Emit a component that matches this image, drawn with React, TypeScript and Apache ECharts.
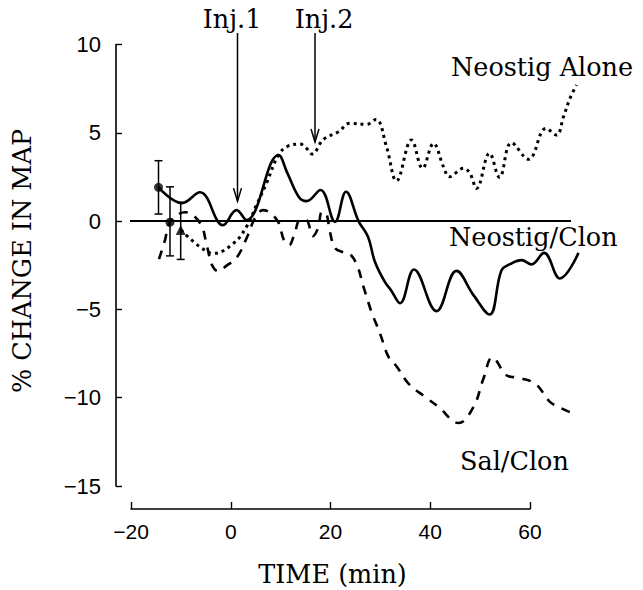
import React, { useEffect, useRef } from "react";
import * as echarts from "echarts";

// ---- data (time in min, % change in MAP) ----
const neoClonT = [-14.5, -9.8, -6.2, -1.6, 1.1, 3.1, 9.5, 11.3, 13.6, 15.1, 17.9, 20.8, 23, 25.5, 27.4, 28.8, 30.8, 32, 33.8, 36.6, 41.1, 45.1, 48.5, 51.7, 54.1, 55.8, 58.1, 60.1, 62.6, 65.8, 69.5];
const neoClonV = [1.91, 1.02, 1.63, -0.23, 0.62, 0.06, 3.74, 2.7, 1.35, 1.13, 1.76, -0.04, 1.66, 0, -0.89, -2.32, -3.46, -3.91, -4.65, -2.74, -5.1, -2.82, -4.19, -5.29, -2.78, -2.44, -2.21, -2.45, -1.8, -3.25, -1.8];

const neoAloneT = [-10, -6.2, -3.5, 0.5, 3.1, 5.1, 7.1, 9.5, 11.4, 13.8, 15.1, 16.2, 18.5, 21.5, 23.8, 27.1, 29, 31.1, 33.1, 36.1, 38.3, 40.5, 42.5, 43.7, 46.5, 47.8, 49.1, 51.7, 53.7, 56.1, 59.5, 63, 65.1, 66.5, 67.8, 69.1];
const neoAloneV = [-0.51, -1.46, -1.83, -1.26, -0.32, 0.91, 2.15, 3.74, 4.25, 4.36, 4.12, 3.8, 4.63, 5.06, 5.54, 5.48, 5.76, 4.21, 2.28, 4.59, 2.99, 4.4, 3.08, 2.51, 2.99, 2.7, 1.85, 3.84, 2.48, 4.44, 3.5, 5.25, 4.87, 5.91, 6.95, 7.71];

const salClonT = [-14.4, -13.2, -12.2, -9.2, -6.2, -4.8, -3.8, -2.6, -1, 1.2, 3.2, 4.8, 6.4, 9.2, 10.6, 11.6, 12.8, 13.8, 15, 16.4, 17.4, 18.2, 19, 19.8, 20.8, 22.4, 23.8, 25.2, 26.5, 28.1, 29.8, 31.5, 33.1, 35.5, 38.8, 41.5, 45.5, 48.5, 50.5, 52.3, 55.1, 57.1, 60.8, 63.8, 65.5, 69.1];
const salClonV = [-2.15, -1.08, -0.06, 0.5, -0.11, -1.42, -2.49, -2.83, -2.55, -2.04, -0.91, 0.17, 0.62, 0.06, -1.08, -1.36, -0.62, 0.06, 0.06, -0.85, -0.4, 0.51, 0.45, -0.62, -1.53, -1.76, -1.87, -2.49, -3.72, -5.14, -6.36, -7.69, -8.22, -9.2, -9.95, -10.52, -11.43, -10.52, -8.91, -7.72, -8.73, -8.86, -9.2, -10.24, -10.52, -10.99];

// baseline (zero) line extent
const zeroLineT = [-20.2, 68];
const zeroLineV = [0, 0];

// baseline points with error bars
const errT = [-14.5, -12.2, -10.06];
const errMid = [1.91, -0.06, -0.51];
const errLow = [0.4, -1.97, -2.17];
const errHigh = [3.42, 1.94, 1.06];
const errSymbols = ["circle", "circle", "triangle"];

// injection arrows
const injLabels = ["Inj.1", "Inj.2"];
const injT = [1.3, 16.8];
const injTip = [1.13, 4.48];
const injTop = [10.65, 10.65];

// axes
const xMin = -20, xMax = 60, xStep = 20;
const yMin = -15, yMax = 10, yStep = 5;
const dataXMax = 72;

const SERIF = "'DejaVu Serif', 'Liberation Serif', serif";
const SANS = "'Liberation Sans', Arial, sans-serif";
const LABEL_SIZE = 25.5;

const fmt = (v: number) => (v < 0 ? "\u2212" + Math.abs(v) : String(v));

export default function App() {
  const ref = useRef<HTMLDivElement>(null);
  useEffect(() => {
    if (!ref.current) return;
    const chart = echarts.init(ref.current, null, { renderer: "svg" });
    const toPairs = (t: number[], v: number[]) => t.map((x, i) => [x, v[i]]);
    const black = "#000";
    const txt = (text: string, x: number, y: number, align: string, extra: any = {}) => ({
      type: "text", x, y, ...extra,
      style: { text, fontFamily: SERIF, fontSize: LABEL_SIZE, fill: black, textAlign: align, textVerticalAlign: "middle" },
    });
    const option: any = {
      animation: false,
      backgroundColor: "#fff",
      grid: [
        { left: 131, width: 399, top: 44.5, height: 441.5 },
        { left: 131, width: (dataXMax - xMin) * 5, top: 44.5, height: 441.5 },
      ],
      xAxis: [
        {
          gridIndex: 0, type: "value", min: xMin, max: xMax, interval: xStep, offset: 23,
          axisLine: { show: true, onZero: false, lineStyle: { color: black, width: 1.6 } },
          axisTick: { show: true, inside: true, length: 7, lineStyle: { color: black, width: 1.4 } },
          axisLabel: { color: black, fontFamily: SANS, fontSize: 21, margin: 12, formatter: fmt },
          splitLine: { show: false },
        },
        { gridIndex: 1, type: "value", min: xMin, max: dataXMax, show: false },
      ],
      yAxis: [
        {
          gridIndex: 0, type: "value", min: yMin, max: yMax, interval: yStep, offset: 15,
          axisLine: { show: true, onZero: false, lineStyle: { color: black, width: 1.6 } },
          axisTick: { show: true, inside: true, length: 6, lineStyle: { color: black, width: 1.4 } },
          axisLabel: { color: black, fontFamily: SANS, fontSize: 22, margin: 15, formatter: fmt },
          splitLine: { show: false },
        },
        { gridIndex: 1, type: "value", min: yMin, max: yMax, show: false },
      ],
      series: [
        {
          type: "line", xAxisIndex: 1, yAxisIndex: 1, data: toPairs(zeroLineT, zeroLineV),
          symbol: "none", lineStyle: { color: black, width: 2 }, silent: true,
        },
        {
          name: "Neostig/Clon", type: "line", xAxisIndex: 1, yAxisIndex: 1,
          data: toPairs(neoClonT, neoClonV), symbol: "none", smooth: 0.4,
          lineStyle: { color: black, width: 2.6 },
        },
        {
          name: "Neostig Alone", type: "line", xAxisIndex: 1, yAxisIndex: 1,
          data: toPairs(neoAloneT, neoAloneV), symbol: "none", smooth: 0.4,
          lineStyle: { color: black, width: 3, type: [3, 4] },
        },
        {
          name: "Sal/Clon", type: "line", xAxisIndex: 1, yAxisIndex: 1,
          data: toPairs(salClonT, salClonV), symbol: "none", smooth: 0.4,
          lineStyle: { color: black, width: 2.6, type: [9, 8] },
        },
        {
          type: "custom", xAxisIndex: 1, yAxisIndex: 1,
          data: errT.map((t, i) => [t, errLow[i], errHigh[i]]),
          renderItem: (params: any, api: any) => {
            const lo = api.coord([api.value(0), api.value(1)]);
            const hi = api.coord([api.value(0), api.value(2)]);
            const st = { stroke: black, lineWidth: 1.5 };
            return {
              type: "group",
              children: [
                { type: "line", shape: { x1: lo[0], y1: lo[1], x2: hi[0], y2: hi[1] }, style: st },
                { type: "line", shape: { x1: lo[0] - 4, y1: lo[1], x2: lo[0] + 4, y2: lo[1] }, style: st },
                { type: "line", shape: { x1: hi[0] - 4, y1: hi[1], x2: hi[0] + 4, y2: hi[1] }, style: st },
              ],
            };
          },
        },
        {
          type: "scatter", xAxisIndex: 1, yAxisIndex: 1,
          data: errT.map((t, i) => ({ value: [t, errMid[i]], symbol: errSymbols[i], symbolSize: errSymbols[i] === "triangle" ? 10 : 9 })),
          itemStyle: { color: black },
        },
        {
          type: "custom", xAxisIndex: 1, yAxisIndex: 1, clip: false,
          data: injT.map((t, i) => [t, injTip[i], injTop[i]]),
          renderItem: (params: any, api: any) => {
            const tip = api.coord([api.value(0), api.value(1)]);
            const top = api.coord([api.value(0), api.value(2)]);
            const st = { stroke: black, lineWidth: 1.5, fill: null };
            return {
              type: "group",
              children: [
                { type: "line", shape: { x1: top[0], y1: top[1], x2: tip[0], y2: tip[1] }, style: st },
                { type: "polyline", shape: { points: [[tip[0] - 4, tip[1] - 13], [tip[0], tip[1]], [tip[0] + 4, tip[1] - 13]] }, style: st },
              ],
            };
          },
        },
      ],
      graphic: [
        txt(injLabels[0], 232, 19, "center"),
        txt(injLabels[1], 324, 19, "center"),
        txt("Neostig Alone", 451, 66.5, "left"),
        txt("Neostig/Clon", 449, 236.5, "left"),
        txt("Sal/Clon", 460, 461, "left"),
        txt("TIME (min)", 332.5, 573.5, "center"),
        txt("% CHANGE IN MAP", 22, 261, "center", { rotation: Math.PI / 2 }),
      ],
    };
    chart.setOption(option);
    return () => chart.dispose();
  }, []);
  return (
    <div
      ref={ref}
      style={{ position: "fixed", left: 0, top: 0, width: 643, height: 590, background: "#fff" }}
    />
  );
}
